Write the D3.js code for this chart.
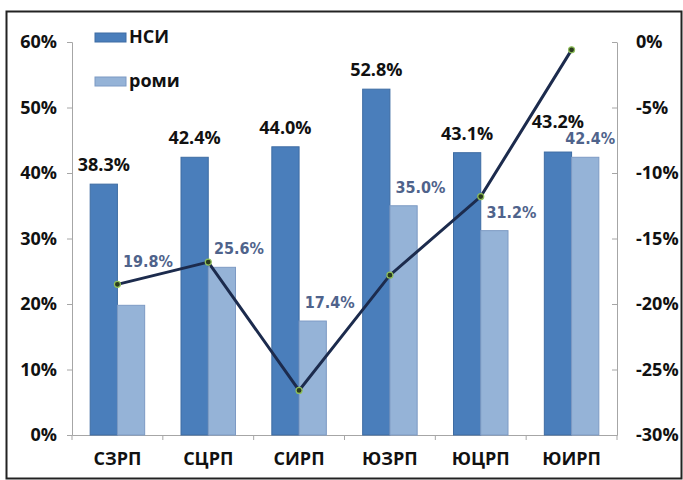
<!DOCTYPE html>
<html>
<head>
<meta charset="utf-8">
<script src="https://cdn.jsdelivr.net/npm/d3@7"></script>
<style>
	body { margin: 0; background: #fff; }
	text { font-family: 'Open Sans', sans-serif; font-weight: bold; }
</style>
</head>
<body>
<svg class="chart"></svg>
<script>

// chart data
var categories = ['СЗРП', 'СЦРП', 'СИРП', 'ЮЗРП', 'ЮЦРП', 'ЮИРП'];
var nsi = [38.3, 42.4, 44.0, 52.8, 43.1, 43.2];
var romi = [19.8, 25.6, 17.4, 35.0, 31.2, 42.4];
var change = [-18.5, -16.8, -26.6, -17.8, -11.8, -0.6];
var leftTicks = [0, 10, 20, 30, 40, 50, 60];
var rightTicks = [0, -5, -10, -15, -20, -25, -30];
var seriesNames = ['НСИ', 'роми'];

var width = 683,
	height = 480;

var margin = {top: 42, right: 66, bottom: 45, left: 72};

var chart = d3.select('.chart')
	.attr('width', width)
	.attr('height', height);

// frame around the picture
chart.append('rect')
	.attr('x', 6.5).attr('y', 11.5)
	.attr('width', width - 8).attr('height', height - 13)
	.attr('fill', 'none')
	.attr('stroke', '#222')
	.attr('stroke-width', 2);

var x = d3.scaleBand()
	.domain(categories)
	.range([margin.left, width - margin.right])
	.paddingInner(0.4)
	.paddingOuter(0.2);

var sub = d3.scaleBand()
	.domain([0, 1])
	.range([0, x.bandwidth()]);

var y = d3.scaleLinear().domain([0, 60]).range([height - margin.bottom, margin.top]);
var y2 = d3.scaleLinear().domain([-30, 0]).range([height - margin.bottom, margin.top]);

var axisColor = '#a6a6a6';

// left axis
var yAxis = d3.axisLeft(y)
	.tickValues(leftTicks)
	.tickSize(5)
	.tickPadding(10)
	.tickFormat(function(d) { return d + '%'; });

chart.append('g')
	.attr('class', 'y axis')
	.attr('transform', 'translate(' + margin.left + ',0)')
	.call(yAxis);

// right axis
var y2Axis = d3.axisRight(y2)
	.tickValues(rightTicks)
	.tickSize(0)
	.tickPadding(19)
	.tickFormat(function(d) { return d + '%'; });

var right = chart.append('g')
	.attr('class', 'y2 axis')
	.attr('transform', 'translate(' + (width - margin.right) + ',0)')
	.call(y2Axis);

right.selectAll('.tick').append('line')
	.attr('x1', -5).attr('x2', 0)
	.attr('stroke', axisColor);

// bottom axis, ticks between the categories
var xAxis = d3.axisBottom(x).tickSize(0).tickPadding(17);

var bottom = chart.append('g')
	.attr('class', 'x axis')
	.attr('transform', 'translate(0,' + (height - margin.bottom) + ')')
	.call(xAxis);

bottom.selectAll('.sep')
	.data(d3.range(categories.length + 1))
	.enter().append('line')
	.attr('x1', function(i) { return margin.left + i * x.step(); })
	.attr('x2', function(i) { return margin.left + i * x.step(); })
	.attr('y1', 0).attr('y2', 5)
	.attr('stroke', axisColor);

chart.selectAll('.axis path').attr('stroke', axisColor);
chart.selectAll('.axis .tick line').attr('stroke', axisColor);
chart.selectAll('.axis text')
	.attr('fill', '#111')
	.style('font-size', '18px');

// bars
var colors = ['#4a7ebb', '#95b3d7'];
var strokes = ['#3e6ca3', '#7d9ac4'];
var series = [nsi, romi];

series.forEach(function(values, s) {
	chart.selectAll('.bar' + s)
		.data(values)
	.enter().append('rect')
		.attr('class', 'bar' + s)
		.attr('x', function(d, i) { return x(categories[i]) + sub(s); })
		.attr('y', function(d) { return y(d); })
		.attr('width', sub.bandwidth())
		.attr('height', function(d) { return y(0) - y(d); })
		.attr('fill', colors[s])
		.attr('stroke', strokes[s])
		.attr('stroke-width', 1);
});

// value labels of the dark bars
chart.selectAll('.lab0')
	.data(nsi)
.enter().append('text')
	.attr('x', function(d, i) { return x(categories[i]) + sub(0) + sub.bandwidth() / 2; })
	.attr('y', function(d, i) { return y(d) - (i == 5 ? 24 : 13); })
	.attr('text-anchor', 'middle')
	.style('font-size', '18px')
	.attr('fill', '#111')
	.text(function(d) { return d.toFixed(1) + '%'; });

// value labels of the light bars
chart.selectAll('.lab1')
	.data(romi)
.enter().append('text')
	.attr('x', function(d, i) { return x(categories[i]) + sub(1) + sub.bandwidth() / 2 + (i == 5 ? 5 : 17); })
	.attr('y', function(d, i) { return y(d) - (i == 0 ? 38 : 13); })
	.attr('text-anchor', 'middle')
	.style('font-family', "'DejaVu Sans Condensed', 'DejaVu Sans', sans-serif")
	.style('font-stretch', 'condensed')
	.style('font-size', '16px')
	.attr('fill', '#4f638b')
	.text(function(d) { return d.toFixed(1) + '%'; });

// line on the right axis
var line = d3.line()
	.x(function(d, i) { return x(categories[i]) + x.bandwidth() / 2; })
	.y(function(d) { return y2(d); });

chart.append('path')
	.datum(change)
	.attr('d', line)
	.attr('fill', 'none')
	.attr('stroke', '#1c2b4d')
	.attr('stroke-width', 3);

chart.selectAll('.dot')
	.data(change)
.enter().append('circle')
	.attr('cx', function(d, i) { return x(categories[i]) + x.bandwidth() / 2; })
	.attr('cy', function(d) { return y2(d); })
	.attr('r', 3)
	.attr('fill', '#2a3a1e')
	.attr('stroke', '#8fbf5a')
	.attr('stroke-width', 1.2);

// legend
var legend = chart.selectAll('.legend')
	.data(seriesNames)
.enter().append('g')
	.attr('transform', function(d, i) { return 'translate(95,' + (33 + i * 44) + ')'; });

legend.append('rect')
	.attr('width', 31).attr('height', 9)
	.attr('fill', function(d, i) { return colors[i]; })
	.attr('stroke', function(d, i) { return strokes[i]; });

legend.append('text')
	.attr('x', 34).attr('y', 10)
	.style('font-size', '18px')
	.attr('fill', '#111')
	.text(function(d) { return d; });

</script>
</body>
</html>
